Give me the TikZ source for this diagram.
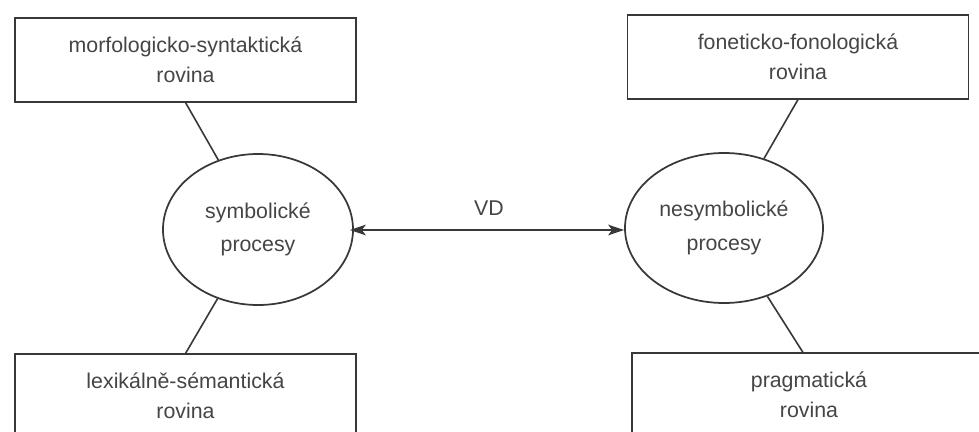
\documentclass[tikz,border=0pt]{standalone}
\usepackage{fontspec}
\setmainfont{Liberation Sans}
\usetikzlibrary{arrows.meta,shapes.geometric}
\definecolor{ink}{HTML}{383838}
\definecolor{txt}{HTML}{454545}
\begin{document}
\begin{tikzpicture}[x=0.75pt,y=-0.75pt,
  level/.style={draw=ink,line width=1.3pt,minimum width=255.75pt,minimum height=62.5pt,
    align=center,font=\fontsize{16}{22.5}\selectfont,text=txt,inner sep=0pt},
  proc/.style={ellipse,draw=ink,line width=1.3pt,align=center,
    font=\fontsize{16}{25}\selectfont,text=txt,inner sep=0pt},
  link/.style={draw=ink,line width=1.2pt},
  >={Stealth[length=12pt,width=8pt,inset=3pt]}]
  \clip (0,0) rectangle (979,432);
  \fill[white] (0,0) rectangle (979,432);

  % language levels
  \node[level] (ms) at (185.5,60) {morfologicko-syntaktická\\rovina};
  \node[level] (ff) at (798,57) {foneticko-fonologická\\rovina};
  \node[level] (ls) at (185.5,396) {lexikálně-sémantická\\rovina};
  \node[level,minimum width=265.5pt] (pr) at (809,395) {pragmatická\\rovina};

  % processes
  \node[proc,minimum width=142.5pt,minimum height=113.25pt] (sym) at (258,229.5) {symbolické\\procesy};
  \node[proc,minimum width=148.5pt,minimum height=112.5pt] (nsym) at (724,228) {nesymbolické\\procesy};

  % connections
  \draw[link] (ms.south) -- (sym);
  \draw[link] (ff.south) -- (nsym);
  \draw[link] (ls.north) -- (sym);
  \coordinate (prtop) at ([xshift=-4.5pt]pr.north);
  \draw[link] (prtop) -- (nsym);

  \draw[link,<->,shorten <=-3pt]
    (sym.east |- 0,230) -- node[above=7pt,font=\fontsize{16}{19}\selectfont,text=txt] (vd) {VD} (nsym.west |- 0,230);
\end{tikzpicture}
\end{document}
